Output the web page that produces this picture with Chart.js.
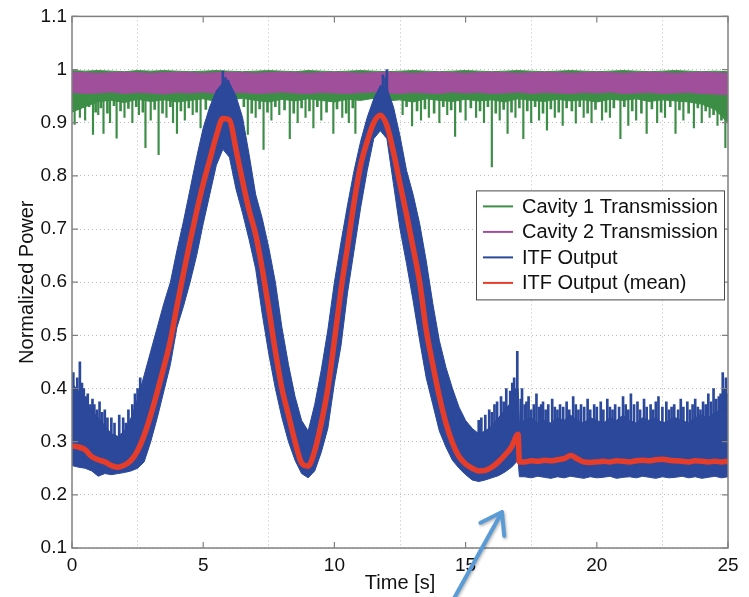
<!DOCTYPE html>
<html>
<head>
<meta charset="utf-8">
<title>ITF output and cavity transmission</title>
<script src="https://cdn.jsdelivr.net/npm/chart.js@4.4.0/dist/chart.umd.min.js"></script>
<style>
  body { margin: 0; background: #fff; }
  #wrap { width: 749px; height: 597px; }
</style>
</head>
<body>
<div id="wrap"><canvas id="chart" width="749" height="597"></canvas></div>
<script>
// ITF trace, sampled every 0.25 s (plus the jump at 17.05 s)
const time = [0,0.25,0.5,0.75, 1,1.25,1.5,1.75, 2,2.25,2.5,2.75, 3,3.25,3.5,3.75, 4,4.25,4.5,4.75,
  5,5.25,5.5,5.75, 6,6.25,6.5,6.75, 7,7.25,7.5,7.75, 8,8.25,8.5,8.75, 9,9.25,9.5,9.75,
  10,10.25,10.5,10.75, 11,11.25,11.5,11.75, 12,12.25,12.5,12.75, 13,13.25,13.5,13.75, 14,14.25,14.5,14.75,
  15,15.25,15.5,15.75, 16,16.25,16.5,16.75, 17, 17.05, 17.25,17.5,17.75,
  18,18.25,18.5,18.75, 19,19.25,19.5,19.75, 20,20.25,20.5,20.75, 21,21.25,21.5,21.75,
  22,22.25,22.5,22.75, 23,23.25,23.5,23.75, 24,24.25,24.5,24.75, 25];

const itfMean = [0.292,0.290,0.285,0.272, 0.266,0.262,0.255,0.252, 0.256,0.265,0.283,0.312, 0.350,0.394,0.440,0.490,
  0.555,0.617,0.677,0.733, 0.785,0.830,0.875,0.908, 0.905,0.850,0.790,0.735, 0.690,0.625,0.550,0.470,
  0.400,0.350,0.300,0.260, 0.254,0.283,0.335,0.400, 0.490,0.585,0.667,0.750, 0.820,0.865,0.900,0.914,
  0.895,0.845,0.785,0.727, 0.665,0.600,0.510,0.445, 0.385,0.335,0.298,0.272, 0.258,0.250,0.245,0.246,
  0.252,0.262,0.275,0.290, 0.314, 0.262, 0.262,0.264,0.263,
  0.265,0.264,0.266,0.268, 0.274,0.268,0.262,0.261, 0.262,0.263,0.262,0.264, 0.263,0.262,0.264,0.265,
  0.264,0.266,0.267,0.265, 0.264,0.263,0.262,0.264, 0.263,0.262,0.263,0.262, 0.263];

const itfHigh = [0.410,0.395,0.370,0.360, 0.345,0.330,0.315,0.310, 0.320,0.345,0.380,0.425, 0.470,0.515,0.560,0.600,
  0.660,0.715,0.775,0.835, 0.890,0.930,0.960,0.975, 0.975,0.950,0.910,0.840, 0.765,0.720,0.665,0.600,
  0.515,0.445,0.385,0.340, 0.320,0.370,0.435,0.510, 0.600,0.675,0.745,0.810, 0.865,0.910,0.945,0.970,
  0.965,0.930,0.875,0.810, 0.765,0.710,0.640,0.560, 0.490,0.440,0.400,0.365, 0.340,0.325,0.315,0.320,
  0.330,0.345,0.360,0.375, 0.400, 0.335, 0.340,0.345,0.335,
  0.340,0.335,0.345,0.340, 0.350,0.340,0.335,0.345, 0.340,0.335,0.345,0.340, 0.350,0.340,0.335,0.345,
  0.340,0.345,0.335,0.340, 0.345,0.340,0.335,0.345, 0.350,0.345,0.355,0.360, 0.360];

const itfLow = [0.255,0.252,0.250,0.245, 0.235,0.240,0.238,0.240, 0.242,0.245,0.250,0.262, 0.300,0.345,0.395,0.445,
  0.515,0.555,0.600,0.650, 0.710,0.765,0.820,0.850, 0.835,0.775,0.730,0.680, 0.625,0.540,0.465,0.400,
  0.345,0.300,0.265,0.240, 0.232,0.245,0.280,0.325, 0.410,0.480,0.580,0.660, 0.740,0.810,0.870,0.885,
  0.870,0.785,0.700,0.635, 0.565,0.490,0.420,0.370, 0.320,0.290,0.265,0.250, 0.238,0.228,0.225,0.228,
  0.232,0.236,0.243,0.252, 0.265, 0.234, 0.234,0.232,0.235,
  0.233,0.231,0.234,0.232, 0.235,0.233,0.231,0.234, 0.232,0.233,0.235,0.231, 0.233,0.234,0.232,0.235,
  0.233,0.231,0.234,0.232, 0.233,0.235,0.232,0.234, 0.231,0.233,0.235,0.232, 0.234];

// upward noise spikes of the ITF output where it sits low
const itfSpikeBase = 0.30;
const itfSpikeX = [0.05,0.12,0.2,0.3,0.38,0.45,0.52,0.6,0.7,0.78, 0.85,0.95,1.05,1.15,1.25,1.35,1.5,1.62,1.8,1.95,
  2.05,2.15,2.3,2.4,2.5,2.6,
  15.5,15.6,15.75,15.9,16.0,16.1,16.2,16.35,16.45,16.55, 16.7,16.78,16.85,16.92,16.97,
  17.1,17.15,17.25,17.32,17.4,17.5,17.6,17.7,17.8,17.88, 17.95,18.05,18.15,18.3,18.4,18.5,18.6,18.72,18.85,18.95,
  19.1,19.2,19.3,19.4,19.52,19.65,19.75,19.9,20.0,20.15, 20.25,20.4,20.5,20.6,20.7,20.85,21.0,21.1,21.2,21.3,
  21.42,21.55,21.65,21.8,21.9,22.05,22.15,22.25,22.35,22.5, 22.65,22.75,22.85,22.95,23.1,23.2,23.3,23.45,23.55,23.65,
  23.75,23.85,23.95,24.05,24.15,24.25,24.35,24.45,24.55,24.65, 24.72,24.8,24.87,24.92,24.97];
const itfSpikeY = [0.43,0.40,0.42,0.45,0.41,0.40,0.385,0.39,0.37,0.38, 0.37,0.36,0.375,0.355,0.36,0.345,0.345,0.335,0.35,0.345,
  0.335,0.36,0.37,0.39,0.40,0.42,
  0.34,0.345,0.35,0.36,0.355,0.37,0.375,0.385,0.375,0.40, 0.395,0.41,0.42,0.40,0.47,
  0.38,0.40,0.37,0.375,0.385,0.36,0.37,0.39,0.365,0.37, 0.375,0.36,0.37,0.38,0.365,0.36,0.37,0.365,0.375,0.36,
  0.385,0.37,0.36,0.37,0.365,0.38,0.36,0.37,0.365,0.375, 0.36,0.38,0.365,0.36,0.37,0.365,0.385,0.37,0.36,0.39,
  0.37,0.375,0.36,0.38,0.365,0.37,0.36,0.375,0.385,0.365, 0.375,0.36,0.365,0.37,0.36,0.38,0.365,0.375,0.36,0.37,
  0.38,0.365,0.36,0.375,0.37,0.39,0.375,0.40,0.38,0.385, 0.39,0.43,0.40,0.42,0.39];

// spikes at the two fringe maxima
const itfPeakBase = 0.95;
const itfPeakX = [5.75, 5.85, 5.95, 11.85, 11.95, 12.0];
const itfPeakY = [0.997, 0.985, 0.98, 0.99, 0.985, 1.0];

// cavity transmissions, sampled every 0.5 s
const cavTime = [0,0.5,1,1.5,2,2.5,3,3.5,4,4.5,5,5.5,6,6.5,7,7.5,8,8.5,9,9.5,10,10.5,11,11.5,12,12.5,
  13,13.5,14,14.5,15,15.5,16,16.5,17,17.5,18,18.5,19,19.5,20,20.5,21,21.5,22,22.5,23,23.5,24,24.5,25];
const cav1High = [0.998,0.997,0.998,0.997,0.996,0.998,0.997,0.998,0.997,0.996,
  0.997,0.998,0.997,0.996,0.997,0.998,0.997,0.996,0.998,0.997,
  0.996,0.997,0.998,0.997,0.996,0.997,0.998,0.997,0.996,0.997,
  0.998,0.997,0.996,0.997,0.998,0.997,0.996,0.997,0.998,0.997,
  0.996,0.997,0.998,0.997,0.996,0.997,0.998,0.997,0.996,0.997,0.996];
const cav1Low = [0.920,0.930,0.940,0.942,0.938,0.944,0.940,0.943,0.939,0.942,
  0.945,0.940,0.943,0.946,0.942,0.939,0.944,0.941,0.945,0.942,
  0.939,0.944,0.942,0.946,0.941,0.943,0.939,0.945,0.942,0.940,
  0.944,0.941,0.943,0.939,0.945,0.942,0.940,0.944,0.941,0.943,
  0.939,0.944,0.942,0.945,0.940,0.943,0.941,0.939,0.935,0.925,0.900];
const cav2High = [0.995,0.994,0.993,0.994,0.995,0.994,0.993,0.994,0.995,0.994,
  0.993,0.994,0.995,0.994,0.993,0.994,0.995,0.994,0.993,0.994,
  0.995,0.994,0.993,0.994,0.995,0.994,0.993,0.994,0.995,0.994,
  0.993,0.994,0.995,0.994,0.993,0.994,0.995,0.994,0.993,0.994,
  0.995,0.994,0.993,0.994,0.995,0.994,0.993,0.994,0.995,0.994,0.993];
const cav2Low = [0.957,0.955,0.956,0.958,0.955,0.957,0.956,0.954,0.957,0.956,
  0.958,0.955,0.956,0.957,0.955,0.956,0.958,0.956,0.955,0.957,
  0.956,0.955,0.957,0.958,0.956,0.955,0.957,0.956,0.955,0.958,
  0.956,0.957,0.955,0.956,0.958,0.955,0.957,0.956,0.955,0.957,
  0.956,0.958,0.955,0.956,0.957,0.955,0.956,0.957,0.955,0.954,0.953];

// downward dips of cavity 1 below its dense band
const cav1Edge = 0.945;
const cav1DipX = [0.1,0.3,0.5,0.8,1.0,1.2,1.45,1.7,2.0,2.3,2.55,2.8,3.0,3.3,3.6,3.85,4.0,4.3,4.6,4.9,
  6.7,7.0,7.3,7.6,7.9,8.3,8.6,8.9,9.2,9.5,9.96,10.3,10.55,10.8,12.6,12.96,13.3,13.6,14.0,14.3,14.6,
  15.0,15.4,15.7,16.0,16.3,16.6,16.9,17.2,17.5,17.8,18.1,18.4,18.7,19.2,19.5,19.8,20.2,20.5,20.9,
  21.2,21.5,21.9,22.3,22.6,23.0,23.3,23.7,24.0,24.3,24.6,24.9];
const cav1DipY = [0.897,0.91,0.905,0.878,0.915,0.88,0.90,0.871,0.91,0.90,0.915,0.853,0.905,0.84,0.91,0.90,0.88,0.905,0.915,0.89,
  0.878,0.91,0.85,0.905,0.915,0.87,0.90,0.91,0.89,0.905,0.88,0.91,0.90,0.88,0.915,0.894,0.905,0.91,0.90,0.915,0.874,
  0.905,0.91,0.90,0.817,0.905,0.88,0.91,0.87,0.90,0.905,0.886,0.91,0.895,0.899,0.91,0.90,0.905,0.91,0.87,
  0.895,0.905,0.88,0.90,0.91,0.88,0.905,0.89,0.90,0.91,0.895,0.853];
// shallow nicks that make the lower edge ragged
const cav1NickX = [0.2,0.65,0.9,1.1,1.35,1.6,1.85,2.15,2.45,2.7, 3.15,3.45,3.75,4.15,4.45,4.75,5.1,6.55,6.85,7.15,
  7.45,7.75,8.1,8.45,8.75,9.05,9.35,9.7,10.1,10.45, 10.7,12.75,13.15,13.45,13.8,14.15,14.45,14.8,15.2,15.55,
  15.85,16.15,16.45,16.75,17.05,17.35,17.65,17.95,18.25,18.55, 18.85,19.05,19.35,19.65,19.95,20.35,20.65,21.05,21.35,21.7,
  22.1,22.45,22.8,23.15,23.5,23.85,24.15,24.45,24.75];
const cav1NickY = [0.925,0.93,0.92,0.928,0.918,0.932,0.922,0.927,0.93,0.92, 0.925,0.918,0.93,0.922,0.928,0.92,0.925,0.93,0.918,0.926,
  0.92,0.93,0.924,0.918,0.928,0.922,0.93,0.92,0.926,0.918, 0.928,0.93,0.922,0.926,0.918,0.93,0.924,0.92,0.928,0.922,
  0.93,0.918,0.925,0.92,0.928,0.922,0.93,0.918,0.926,0.92, 0.928,0.922,0.93,0.918,0.925,0.92,0.928,0.93,0.922,0.918,
  0.926,0.92,0.93,0.924,0.918,0.928,0.922,0.915,0.905];

const xTicks = [0, 5, 10, 15, 20, 25];
const yTicks = [0.1, 0.2, 0.3, 0.4, 0.5, 0.6, 0.7, 0.8, 0.9, 1, 1.1];

const GREEN = '#3c8d46', MAGENTA = '#a04f9b', BLUE = '#2b489b', RED = '#e63d2b';
const FONT = '"Liberation Sans", Arial, Helvetica, sans-serif';

function pts(xs, ys) { return xs.map((x, i) => ({x: x, y: ys[i]})); }
function pick(v, i) { return Array.isArray(v) ? v[i] : v; }
function bars(xs, lo, hi) { return xs.map((x, i) => ({x: x, y: [pick(lo, i), pick(hi, i)]})); }
function line(data, color, extra) {
    return Object.assign({type: 'line', data: data, borderColor: color, backgroundColor: color,
        borderWidth: 1, pointRadius: 0, tension: 0, fill: false}, extra);
}
function spikes(data, color, width, order) {
    return {type: 'bar', data: data, backgroundColor: color, borderWidth: 0,
        barThickness: width, grouped: false, order: order};
}

// frame and inward tick marks (matlab style)
const framePlugin = {
    id: 'frame',
    afterDatasetsDraw(chart) {
        const {ctx, chartArea: a, scales: {x, y}} = chart;
        ctx.save();
        ctx.strokeStyle = '#808080';
        ctx.lineWidth = 1.5;
        ctx.strokeRect(a.left, a.top, a.right - a.left, a.bottom - a.top);
        ctx.lineWidth = 1.2;
        ctx.beginPath();
        x.ticks.forEach(t => {
            const px = x.getPixelForValue(t.value);
            ctx.moveTo(px, a.bottom); ctx.lineTo(px, a.bottom - 6);
            ctx.moveTo(px, a.top); ctx.lineTo(px, a.top + 6);
        });
        y.ticks.forEach(t => {
            const py = y.getPixelForValue(t.value);
            ctx.moveTo(a.left, py); ctx.lineTo(a.left + 6, py);
            ctx.moveTo(a.right, py); ctx.lineTo(a.right - 6, py);
        });
        ctx.stroke();
        ctx.restore();
    }
};

// boxed legend inside the plot
const boxLegend = {
    id: 'boxLegend',
    afterDraw(chart) {
        const {ctx, chartArea: a} = chart;
        const items = chart.data.datasets.filter(d => d.label);
        const w = 248, h = 109, left = a.right - w - 4, top = a.top + 174;
        ctx.save();
        ctx.fillStyle = '#fff';
        ctx.fillRect(left, top, w, h);
        ctx.strokeStyle = '#4a4a4a';
        ctx.lineWidth = 1;
        ctx.strokeRect(left + 0.5, top + 0.5, w, h);
        ctx.font = '20px ' + FONT;
        ctx.textBaseline = 'middle';
        items.forEach((d, i) => {
            const yy = top + 16 + i * 25.5;
            ctx.strokeStyle = d.borderColor;
            ctx.lineWidth = 2;
            ctx.beginPath(); ctx.moveTo(left + 7, yy); ctx.lineTo(left + 37, yy); ctx.stroke();
            ctx.fillStyle = '#111';
            ctx.fillText(d.label, left + 46, yy + 1);
        });
        ctx.restore();
    }
};

// blue annotation arrow under the axis
const arrowPlugin = {
    id: 'arrow',
    afterDraw(chart) {
        const ctx = chart.ctx;
        const tip = {x: 502, y: 512}, tail = {x: 452, y: 602};
        const back = Math.atan2(tail.y - tip.y, tail.x - tip.x);
        ctx.save();
        ctx.strokeStyle = '#5b9bd5';
        ctx.lineWidth = 4;
        ctx.lineCap = 'round';
        ctx.lineJoin = 'round';
        ctx.shadowColor = 'rgba(0,0,0,0.3)';
        ctx.shadowBlur = 3;
        ctx.shadowOffsetX = 1;
        ctx.shadowOffsetY = 1.5;
        ctx.beginPath();
        ctx.moveTo(tail.x, tail.y); ctx.lineTo(tip.x, tip.y);
        ctx.moveTo(tip.x + 24 * Math.cos(back + 0.6), tip.y + 24 * Math.sin(back + 0.6));
        ctx.lineTo(tip.x, tip.y);
        ctx.lineTo(tip.x + 24 * Math.cos(back - 0.6), tip.y + 24 * Math.sin(back - 0.6));
        ctx.stroke();
        ctx.restore();
    }
};

const tickFont = {family: FONT, size: 19};
const titleFont = {family: FONT, size: 20};

new Chart(document.getElementById('chart'), {
    type: 'line',
    data: {
        datasets: [
            line(pts(cavTime, cav1High), GREEN, {label: 'Cavity 1 Transmission', fill: '+1', order: 3}),
            line(pts(cavTime, cav1Low), GREEN, {order: 3}),
            spikes(bars(cav1DipX, cav1DipY, cav1Edge), GREEN, 1.5, 3),
            spikes(bars(cav1NickX, cav1NickY, cav1Edge), GREEN, 2, 3),
            line(pts(cavTime, cav2High), MAGENTA, {label: 'Cavity 2 Transmission', fill: '+1', order: 2}),
            line(pts(cavTime, cav2Low), MAGENTA, {order: 2}),
            line(pts(time, itfHigh), BLUE, {label: 'ITF Output', fill: '+1', order: 1}),
            line(pts(time, itfLow), BLUE, {order: 1}),
            spikes(bars(itfSpikeX, itfSpikeBase, itfSpikeY), BLUE, 2, 1),
            spikes(bars(itfPeakX, itfPeakBase, itfPeakY), BLUE, 2, 1),
            line(pts(time, itfMean), RED, {label: 'ITF Output (mean)', borderWidth: 5.5, order: 0,
                cubicInterpolationMode: 'monotone'})
        ]
    },
    options: {
        responsive: false,
        animation: false,
        events: [],
        layout: {padding: {top: 15, right: 21, left: 0, bottom: 0}},
        plugins: {legend: {display: false}, tooltip: {enabled: false}},
        scales: {
            x: {
                type: 'linear', min: 0, max: 25, offset: false,
                afterBuildTicks: s => { s.ticks = xTicks.map(v => ({value: v})); },
                afterFit: s => { s.height = 49; },
                grid: {color: '#bdbdbd', lineWidth: 1, drawTicks: false},
                border: {display: false, dash: [1, 3]},
                ticks: {font: tickFont, color: '#111', padding: 6, maxRotation: 0},
                title: {display: true, text: 'Time [s]', font: titleFont, color: '#111', padding: {top: 0, bottom: 2}}
            },
            y: {
                type: 'linear', min: 0.1, max: 1.1,
                afterBuildTicks: s => { s.ticks = yTicks.map(v => ({value: v})); },
                afterFit: s => { s.width = 72; },
                grid: {color: '#bdbdbd', lineWidth: 1, drawTicks: false},
                border: {display: false, dash: [1, 3]},
                ticks: {font: tickFont, color: '#111', padding: 5,
                    callback: v => String(Math.round(v * 10) / 10)},
                title: {display: true, text: 'Normalized Power', font: titleFont, color: '#111', padding: {top: 15, bottom: 0}}
            }
        }
    },
    plugins: [framePlugin, boxLegend, arrowPlugin]
});
</script>
</body>
</html>
